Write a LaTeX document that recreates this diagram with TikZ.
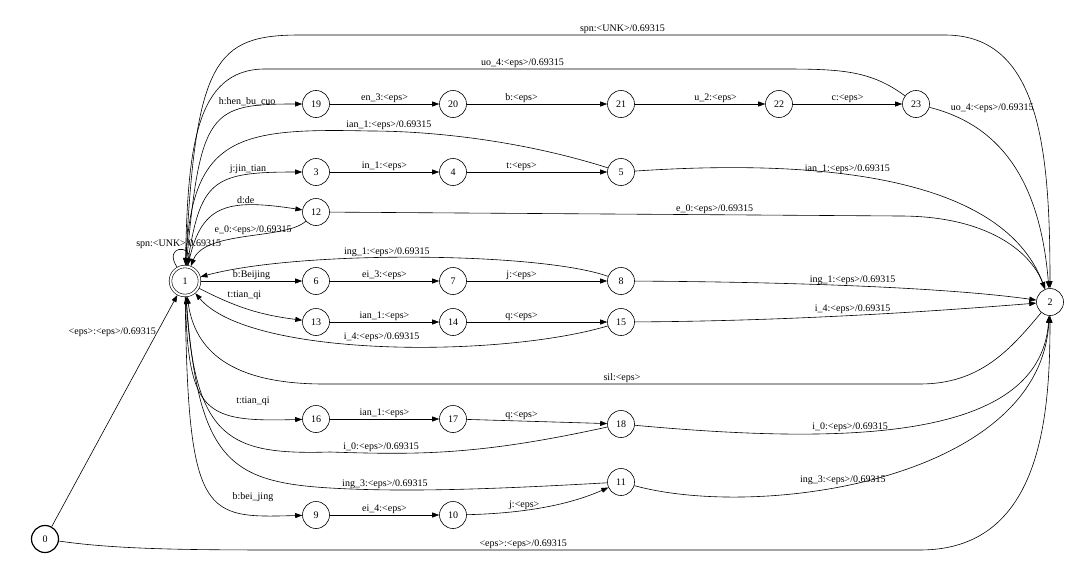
\documentclass[tikz,border=0pt]{standalone}
\usepackage{fontspec}
\setmainfont{Liberation Serif}
\usetikzlibrary{arrows.meta}

\begin{document}
\begin{tikzpicture}[
        x=1pt, y=-1pt,
        ->, >={Triangle[length=7pt,width=5pt]}, line width=0.6pt,
        state/.style={draw, circle, minimum size=27pt, inner sep=0pt},
        final/.style={draw, circle, double, double distance=2pt,
                minimum size=29pt, inner sep=0pt, outer sep=1.5pt},
        initial/.style={state, line width=1.2pt},
        every node/.style={font=\fontsize{10}{12}\selectfont, inner sep=1pt}
    ]
    \useasboundingbox (0,0) rectangle (1080,570);

    \node[initial] (n0) at (45,539) {0};
    \node[final] (n1) at (185,281) {1};
    \node[state] (n2) at (1050,302) {2};

    \node[state] (n19) at (316,104) {19};
    \node[state] (n20) at (453,104) {20};
    \node[state] (n21) at (621,104) {21};
    \node[state] (n22) at (779,104) {22};
    \node[state] (n23) at (916,104) {23};
    \node[state] (n3) at (316,172) {3};
    \node[state] (n4) at (453,172) {4};
    \node[state] (n5) at (621,172) {5};
    \node[state] (n12) at (316,212) {12};
    \node[state] (n6) at (316,281) {6};
    \node[state] (n7) at (453,281) {7};
    \node[state] (n8) at (621,281) {8};
    \node[state] (n13) at (316,322) {13};
    \node[state] (n14) at (453,322) {14};
    \node[state] (n15) at (621,322) {15};
    \node[state] (n16) at (316,419) {16};
    \node[state] (n17) at (453,419) {17};
    \node[state] (n18) at (621,424) {18};
    \node[state] (n11) at (621,482) {11};
    \node[state] (n9) at (316,515) {9};
    \node[state] (n10) at (453,515) {10};

    % start arcs
    \draw (n0) -- node[pos=0.84, left] {<eps>:<eps>/0.69315} (n1);
    \draw (n0) .. controls (120,550) and (200,550) .. (300,550)
        -- node[pos=0.36, above] {<eps>:<eps>/0.69315} (920,550)
        .. controls (1040,550) and (1050,420) .. (n2);

    % arcs leaving 1
    \draw (n1) .. controls (195,60) and (215,35) .. (300,35)
        -- node[above] {spn:<UNK>/0.69315} (945,35)
        .. controls (1040,35) and (1050,150) .. (n2);
    \draw (n1.120) .. controls (163,245) and (192,245) .. node[above] {spn:<UNK>/0.69315} (n1.80);
    \draw (n1) .. controls (200,110) and (210,104) .. node[pos=0.75, above] {h:hen\_bu\_cuo} (n19);
    \draw (n1) .. controls (200,180) and (212,172) .. node[pos=0.75, above] {j:jin\_tian} (n3);
    \draw (n1) .. controls (200,205) and (225,198) .. node[pos=0.7, above] {d:de} (n12);
    \draw (n1) -- node[above] {b:Beijing} (n6);
    \draw (n1) to[bend right=10] node[pos=0.45, above=7pt] {t:tian\_qi} (n13);
    \draw (n1) .. controls (188,415) and (205,422) .. node[pos=0.8, above=12pt] {t:tian\_qi} (n16);
    \draw (n1) .. controls (188,520) and (205,518) .. node[pos=0.8, above=12pt] {b:bei\_jing} (n9);

    % chains
    \draw (n19) -- node[above] {en\_3:<eps>} (n20);
    \draw (n20) -- node[pos=0.39, above] {b:<eps>} (n21);
    \draw (n21) -- node[pos=0.62, above] {u\_2:<eps>} (n22);
    \draw (n22) -- node[above] {c:<eps>} (n23);
    \draw (n3) -- node[above] {in\_1:<eps>} (n4);
    \draw (n4) -- node[pos=0.39, above] {t:<eps>} (n5);
    \draw (n6) -- node[above] {ei\_3:<eps>} (n7);
    \draw (n7) -- node[pos=0.39, above] {j:<eps>} (n8);
    \draw (n13) -- node[above] {ian\_1:<eps>} (n14);
    \draw (n14) -- node[pos=0.39, above] {q:<eps>} (n15);
    \draw (n16) -- node[above] {ian\_1:<eps>} (n17);
    \draw (n17) -- node[pos=0.39, above] {q:<eps>} (n18);
    \draw (n9) -- node[above] {ei\_4:<eps>} (n10);
    \draw (n10) .. controls (540,513) and (580,500) .. node[pos=0.3, above] {j:<eps>} (n11);

    % back to 1
    \draw (n23) .. controls (870,70) and (840,69) .. (780,69)
        -- node[above] {uo\_4:<eps>/0.69315} (265,69)
        .. controls (195,69) and (188,150) .. (n1);
    \draw (n5) .. controls (520,140) and (430,131) .. node[pos=0.9, above] {ian\_1:<eps>/0.69315} (370,131)
        .. controls (240,128) and (192,135) .. (n1);
    \draw (n12) .. controls (285,240) and (205,230) .. node[pos=0.45, above] {e\_0:<eps>/0.69315} (n1);
    \draw (n8) .. controls (540,252) and (300,250) .. node[pos=0.56, above] {ing\_1:<eps>/0.69315} (n1);
    \draw (n15) .. controls (500,358) and (250,358) .. node[pos=0.5, above=3pt] {i\_4:<eps>/0.69315} (n1);
    \draw (n18) .. controls (480,455) and (420,455) .. node[pos=0.8, above] {i\_0:<eps>/0.69315} (330,452)
        .. controls (230,455) and (195,440) .. (n1);
    \draw (n11) .. controls (480,490) and (400,492) .. node[pos=0.75, above] {ing\_3:<eps>/0.69315} (330,488)
        .. controls (230,482) and (198,460) .. (n1);
    \draw (n2) .. controls (1010,350) and (980,384) .. (920,384)
        -- node[above] {sil:<eps>} (324,384)
        .. controls (230,384) and (195,350) .. (n1);

    % into 2
    \draw (n23) .. controls (1000,125) and (1040,180) .. node[pos=0.1, anchor=south west] {uo\_4:<eps>/0.69315} (n2);
    \draw (n5) .. controls (800,160) and (1000,170) .. node[pos=0.42, above] {ian\_1:<eps>/0.69315} (n2);
    \draw (n12) -- node[pos=0.675, above] {e\_0:<eps>/0.69315} (900,216)
        .. controls (985,216) and (1030,250) .. (n2);
    \draw (n8) .. controls (800,282) and (950,288) .. node[pos=0.47, above] {ing\_1:<eps>/0.69315} (n2);
    \draw (n15) .. controls (800,321) and (950,310) .. node[pos=0.47, above] {i\_4:<eps>/0.69315} (n2);
    \draw (n18) .. controls (850,445) and (1040,440) .. node[pos=0.36, above] {i\_0:<eps>/0.69315} (n2);
    \draw (n11) .. controls (760,520) and (1040,480) .. node[pos=0.42, above] {ing\_3:<eps>/0.69315} (n2);
\end{tikzpicture}
\end{document}
